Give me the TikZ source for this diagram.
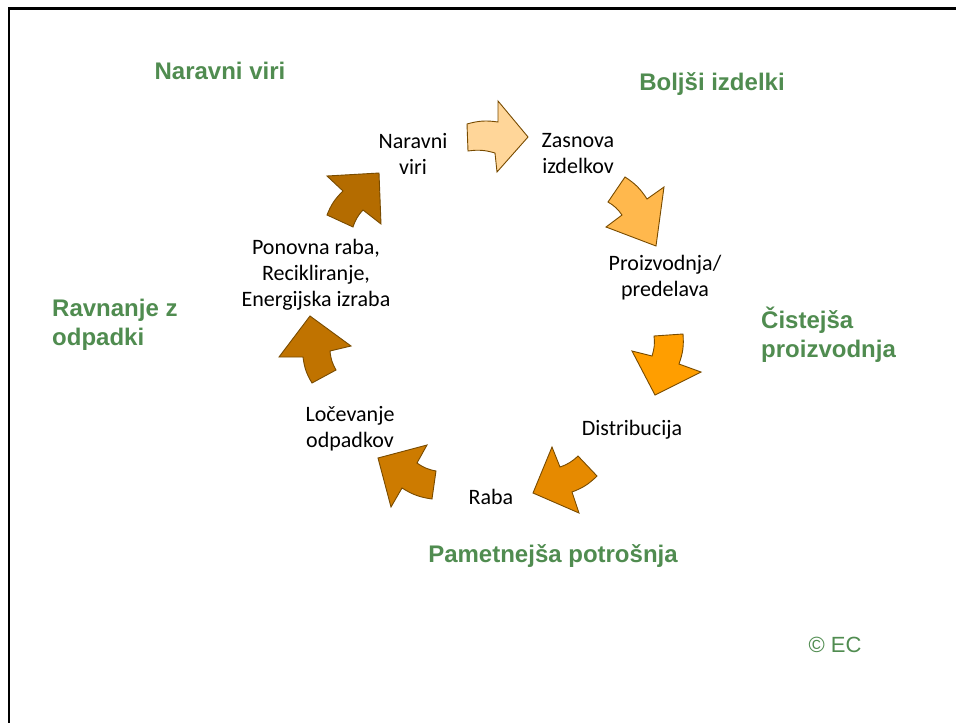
\documentclass[tikz,border=0pt]{standalone}
\usepackage{fontspec}
\setmainfont{Carlito}
\newfontfamily\arialf{Liberation Sans}
\definecolor{grn}{RGB}{80,140,80}
\definecolor{aline}{RGB}{120,75,0}
\definecolor{cA}{RGB}{255,214,153}
\definecolor{cB}{RGB}{255,184,77}
\definecolor{cC}{RGB}{255,158,0}
\definecolor{cD}{RGB}{230,138,0}
\definecolor{cE}{RGB}{205,123,0}
\definecolor{cF}{RGB}{192,115,0}
\definecolor{cG}{RGB}{180,108,0}
\newcommand{\cyclearrow}[8]{%
  \draw[arrowshape, fill=#1] #2 to[bend left=12] #3 -- #4 -- #5 -- #6 -- #7 to[bend right=12] #8 -- cycle;}
\begin{document}
\begin{tikzpicture}[x=1pt,y=1pt,
  arrowshape/.style={draw=aline, line width=0.9pt, line join=miter},
  lbl/.style={font=\fontsize{22}{26}\selectfont, align=center, text=black, inner sep=0pt},
  ttl/.style={font=\arialf\bfseries\fontsize{24}{29}\selectfont, text=grn, inner sep=0pt}]
\useasboundingbox (0,-723) rectangle (956,0);
\draw[line width=2.6pt] (9,-723) -- (9,-8.5) -- (956,-8.5);
% arrows
\cyclearrow{cA}{(467,-124)}{(498,-122)}{(498,-101)}{(528,-137)}{(497,-172)}{(495,-153)}{(468,-151)}
\cyclearrow{cB}{(625,-177)}{(647,-199)}{(664,-187)}{(656,-246)}{(606,-227)}{(622,-215)}{(608,-202)}
\cyclearrow{cC}{(683,-334)}{(679,-364)}{(701,-372)}{(655,-395)}{(632,-351)}{(652,-356)}{(654,-336)}
\cyclearrow{cD}{(597,-476)}{(572,-492)}{(579,-513)}{(533,-493)}{(552,-447)}{(560,-467)}{(578,-456)}
\cyclearrow{cE}{(432,-499)}{(402,-488)}{(391,-507)}{(378,-458)}{(427,-445)}{(417,-463)}{(436,-471)}
\cyclearrow{cF}{(312,-383)}{(303,-357)}{(279,-357)}{(310,-316)}{(351,-346)}{(330,-351)}{(336,-370)}
\cyclearrow{cG}{(327,-215)}{(343,-191)}{(327,-176)}{(379,-173)}{(381,-224)}{(363,-210)}{(353,-227)}
% black labels
\node[lbl] (l1) at (413,-154) {Naravni\\viri};
\node[lbl] (l2) at (578,-154) {Zasnova\\izdelkov};
\node[lbl] (l3) at (665,-278) {Proizvodnja/\\predelava};
\node[lbl] (l4) at (632,-430) {Distribucija};
\node[lbl] (l5) at (491,-497) {Raba};
\node[lbl] (l6) at (350,-429) {Ločevanje\\odpadkov};
\node[lbl] (l7) at (316,-275) {Ponovna raba,\\Recikliranje,\\Energijska izraba};
% green titles
\node[ttl] (t1) at (220,-71) {Naravni viri};
\node[ttl] (t2) at (712,-84) {Boljši izdelki};
\node[ttl, align=left, anchor=west] (t3) at (761,-335) {Čistejša\\proizvodnja};
\node[ttl, align=left, anchor=west] (t4) at (52,-325) {Ravnanje z\\odpadki};
\node[ttl] (t5) at (553,-556) {Pametnejša potrošnja};
\node[font=\arialf\fontsize{22}{26}\selectfont, text=grn, inner sep=0pt] (ec) at (835,-645) {© EC};
\end{tikzpicture}
\end{document}
